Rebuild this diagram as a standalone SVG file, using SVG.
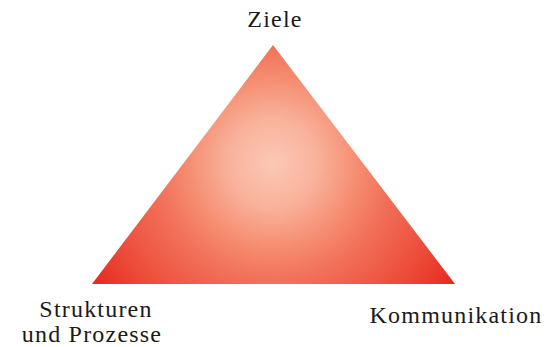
<svg xmlns="http://www.w3.org/2000/svg" width="558" height="347" viewBox="0 0 558 347">
<style>
.lbl{font-family:"Liberation Serif","Times New Roman",serif;font-size:24px;letter-spacing:1.2px;fill:#1a1a1a}
</style>
<defs>
<radialGradient id="g" gradientUnits="userSpaceOnUse" cx="273" cy="163" r="220">
<stop offset="0" stop-color="#fbc8b6"/>
<stop offset="0.2" stop-color="#f9b29c"/>
<stop offset="0.4" stop-color="#f58a6d"/>
<stop offset="0.53" stop-color="#f2715a"/>
<stop offset="0.8" stop-color="#ec4a38"/>
<stop offset="1" stop-color="#e8261e"/>
</radialGradient>
</defs>
<rect width="558" height="347" fill="#fff"/>
<g id="triangle">
<polygon points="273,45 92,284 455,284" fill="url(#g)"/>
</g>
<g id="ziele"><text class="lbl" x="275" y="27" text-anchor="middle">Ziele</text></g>
<g id="strukturen"><text class="lbl" x="96" y="317" text-anchor="middle">Strukturen</text><text class="lbl" x="92" y="342" text-anchor="middle">und Prozesse</text></g>
<g id="kommunikation"><text class="lbl" x="456" y="323" text-anchor="middle">Kommunikation</text></g>
</svg>
